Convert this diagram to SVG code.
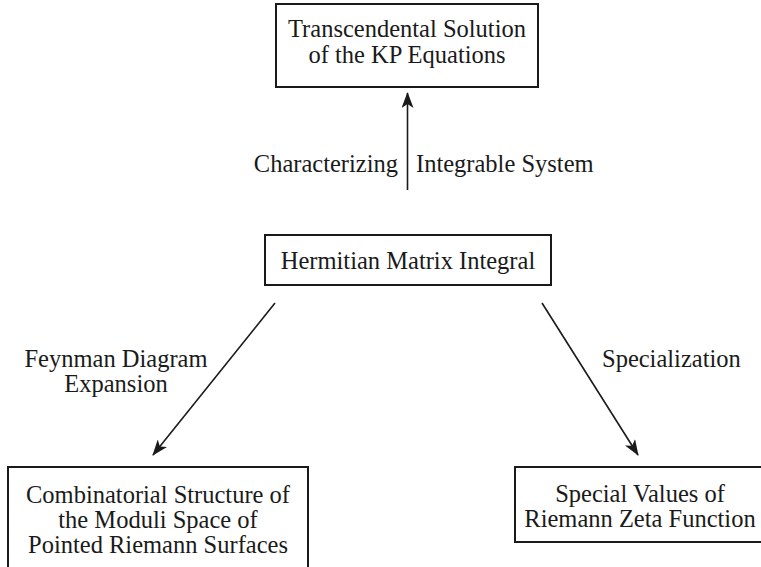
<svg xmlns="http://www.w3.org/2000/svg" width="761" height="567" viewBox="0 0 761 567">
<style>
.box{fill:#fff;stroke:#1a1a1a;stroke-width:2}
.t{font-family:"Liberation Serif","Times New Roman",serif;font-size:24.5px;fill:#1a1a1a;text-anchor:middle}
.l{font-family:"Liberation Serif","Times New Roman",serif;font-size:24.5px;fill:#1a1a1a}
.c{stroke:#1a1a1a;stroke-width:1.6;fill:none;marker-end:url(#ah)}
</style>
<defs>
<marker id="ah" markerUnits="userSpaceOnUse" markerWidth="16" markerHeight="12" viewBox="0 0 16 12" refX="15" refY="6" orient="auto">
<path d="M0,0 L16,6 L0,12 L4,6 z" fill="#1a1a1a"/>
</marker>
</defs>
<rect width="761" height="567" fill="#fff"/>
<g id="connectors">
<line class="c" x1="407.5" y1="190" x2="407.5" y2="93"/>
<line class="c" x1="275" y1="303" x2="153" y2="455"/>
<line class="c" x1="542" y1="303" x2="638" y2="455"/>
<text class="l" x="398" y="172" text-anchor="end">Characterizing</text>
<text class="l" x="416" y="172">Integrable System</text>
<text class="t" x="116" y="367">Feynman Diagram</text>
<text class="t" x="116" y="392">Expansion</text>
<text class="l" x="602" y="367">Specialization</text>
</g>
<g id="kp">
<rect class="box" x="276" y="4" width="262" height="83"/>
<text class="t" x="407" y="37">Transcendental Solution</text>
<text class="t" x="407" y="63">of the KP Equations</text>
</g>
<g id="hermitian">
<rect class="box" x="265" y="235" width="286" height="50"/>
<text class="t" x="408" y="269">Hermitian Matrix Integral</text>
</g>
<g id="moduli">
<rect class="box" x="8" y="467" width="300" height="110"/>
<text class="t" x="158" y="503">Combinatorial Structure of</text>
<text class="t" x="158" y="528">the Moduli Space of</text>
<text class="t" x="158" y="553">Pointed Riemann Surfaces</text>
</g>
<g id="zeta">
<rect class="box" x="515" y="467" width="252" height="75"/>
<text class="t" x="640" y="502">Special Values of</text>
<text class="t" x="640" y="527">Riemann Zeta Function</text>
</g>
</svg>
